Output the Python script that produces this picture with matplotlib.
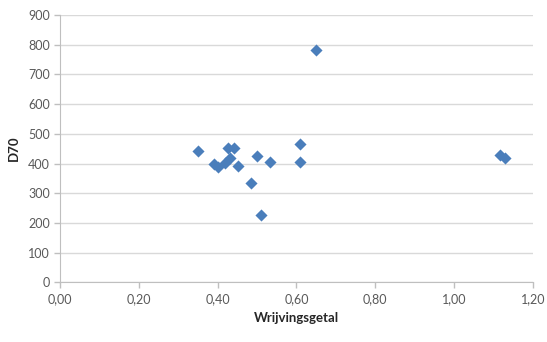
import matplotlib.pyplot as plt
from matplotlib.ticker import FuncFormatter, MultipleLocator

# friction coefficient vs D70
wrijving = [0.349, 0.427, 0.442, 0.391, 0.400, 0.418, 0.432, 0.452, 0.484,
            0.501, 0.511, 0.532, 0.608, 0.608, 0.649, 1.118, 1.130]
d70 = [443, 452, 452, 397, 389, 403, 417, 392, 333,
       425, 227, 404, 465, 404, 782, 428, 418]

plt.rcParams['font.family'] = ['Lato', 'DejaVu Sans']

fig = plt.figure(figsize=(5.47, 3.42), dpi=100)
ax = fig.add_axes([0.110, 0.1746, 0.864, 0.7814])

ax.scatter(wrijving, d70, marker='D', s=38, color='#4a7ebb', linewidths=0, zorder=3)

ax.set_xlim(0, 1.2)
ax.set_ylim(0, 900)
ax.xaxis.set_major_locator(MultipleLocator(0.2))
ax.yaxis.set_major_locator(MultipleLocator(100))
ax.xaxis.set_major_formatter(FuncFormatter(lambda v, p: f'{v:.2f}'.replace('.', ',')))

ax.grid(axis='y', color='#d9d9d9', linewidth=1)
ax.set_axisbelow(True)
for side in ['top', 'right']:
    ax.spines[side].set_visible(False)
for side in ['left', 'bottom']:
    ax.spines[side].set_color('#bfbfbf')
ax.tick_params(colors='#bfbfbf', labelcolor='#595959', labelsize=9, length=4, width=1)
ax.tick_params(axis='x', pad=4)

ax.set_xlabel('Wrijvingsgetal', fontsize=9.5, fontweight='bold', color='#262626', labelpad=5)
ax.set_ylabel('D70', fontsize=9.5, fontweight='bold', color='#262626', labelpad=6)

fig.savefig('out.png', dpi=100)
